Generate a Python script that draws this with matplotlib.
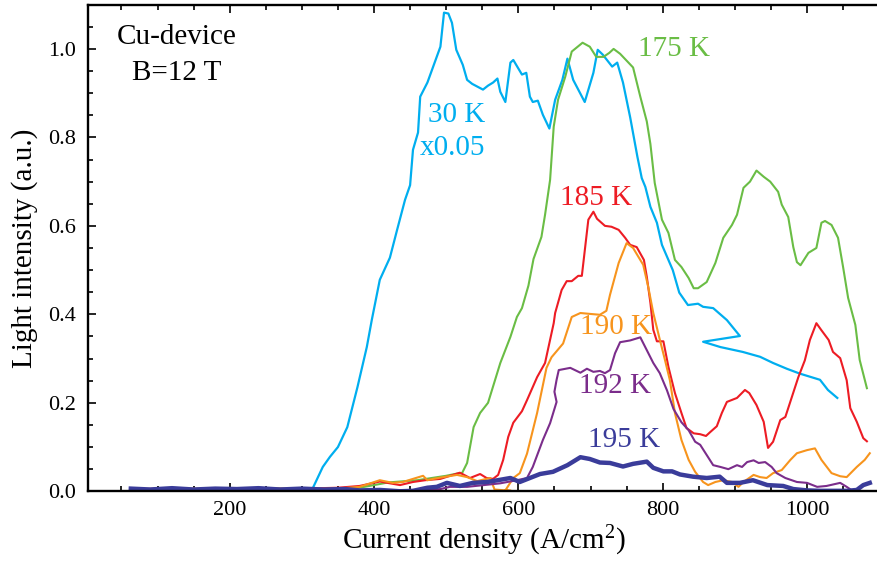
import matplotlib
matplotlib.use('Agg')
import matplotlib.pyplot as plt
from matplotlib.ticker import MultipleLocator, FormatStrFormatter

# ---- data (current density A/cm2, light intensity a.u.) ----
x_30K = [63, 130, 200, 260, 300, 314, 329, 339, 350, 363, 377, 390, 397, 408, 422,
         432, 443, 450, 454, 461, 464, 474, 492, 497, 503, 508, 514, 523, 529, 536,
         551, 558, 565, 571, 575, 582, 589, 593, 605, 611, 616, 620, 627, 634, 643,
         651, 661, 668, 676, 692, 704, 710, 717, 730, 737, 745, 755, 765, 771, 776,
         783, 792, 799, 814, 823, 835, 849, 856, 870, 889, 907, 856, 880, 911, 935,
         953, 972, 990, 1018, 1029, 1042]
y_30K = [0.004, 0.005, 0.004, 0.006, 0.005, 0.003, 0.055, 0.078, 0.100, 0.145, 0.235, 0.326, 0.388, 0.478, 0.528,
         0.591, 0.659, 0.692, 0.772, 0.811, 0.892, 0.924, 1.005, 1.082, 1.080, 1.059, 0.998, 0.964, 0.930, 0.921,
         0.908, 0.917, 0.924, 0.933, 0.903, 0.880, 0.969, 0.975, 0.942, 0.946, 0.892, 0.880, 0.883, 0.851, 0.820,
         0.885, 0.930, 0.978, 0.930, 0.880, 0.946, 0.998, 0.987, 0.960, 0.969, 0.924, 0.845, 0.756, 0.708, 0.688,
         0.643, 0.607, 0.557, 0.500, 0.449, 0.421, 0.424, 0.417, 0.414, 0.387, 0.351, 0.338, 0.326, 0.315, 0.304,
         0.290, 0.277, 0.266, 0.252, 0.229, 0.211]

x_175K = [63, 130, 200, 260, 320, 380, 420, 460, 500, 515, 522, 529, 538, 547, 558, 575, 589, 598, 605, 614,
          621, 632, 637, 644, 649, 655, 665, 674, 689, 699, 708, 718, 726, 732, 741, 759, 769, 778, 783, 789,
          799, 808, 817, 826, 836, 843, 849, 861, 873, 884, 896, 903, 912, 921, 930, 940, 949, 960, 965, 974,
          981, 986, 991, 1002, 1013, 1020, 1025, 1034, 1043, 1050, 1057, 1067, 1073, 1083]
y_175K = [0.005, 0.004, 0.006, 0.005, 0.005, 0.008, 0.020, 0.025, 0.035, 0.040, 0.041, 0.064, 0.145, 0.177, 0.200, 0.290, 0.349, 0.394, 0.414, 0.465,
          0.525, 0.575, 0.625, 0.704, 0.824, 0.885, 0.937, 0.994, 1.014, 1.005, 0.982, 0.982, 0.991, 1.000, 0.989, 0.958, 0.892, 0.836, 0.785, 0.697,
          0.614, 0.584, 0.523, 0.507, 0.482, 0.459, 0.459, 0.473, 0.516, 0.573, 0.602, 0.625, 0.686, 0.700, 0.725, 0.711, 0.700, 0.677, 0.648, 0.620,
          0.552, 0.518, 0.511, 0.539, 0.550, 0.607, 0.611, 0.602, 0.573, 0.507, 0.437, 0.376, 0.297, 0.233]

x_185K = [63, 100, 150, 200, 250, 300, 350, 380, 408, 436, 454, 471, 492, 519, 533, 547, 556, 565, 572, 579,
          586, 593, 605, 612, 626, 637, 649, 651, 660, 667, 674, 683, 688, 697, 704, 709, 720, 729, 739, 748,
          755, 764, 774, 778, 783, 787, 792, 801, 808, 817, 826, 833, 843, 852, 860, 866, 875, 882, 889, 903,
          914, 920, 930, 940, 946, 953, 963, 970, 979, 988, 997, 1004, 1013, 1020, 1030, 1036, 1046, 1055, 1060, 1069,
          1078, 1083]
y_185K = [0.004, 0.006, 0.004, 0.007, 0.005, 0.006, 0.008, 0.012, 0.022, 0.014, 0.021, 0.025, 0.028, 0.042, 0.030, 0.039, 0.030, 0.028, 0.037, 0.071,
          0.123, 0.155, 0.181, 0.206, 0.258, 0.290, 0.380, 0.403, 0.455, 0.475, 0.475, 0.487, 0.487, 0.614, 0.632, 0.616, 0.600, 0.598, 0.591, 0.573,
          0.557, 0.552, 0.523, 0.485, 0.426, 0.365, 0.339, 0.339, 0.281, 0.222, 0.177, 0.143, 0.131, 0.129, 0.125, 0.134, 0.147, 0.177, 0.202, 0.211,
          0.229, 0.222, 0.195, 0.157, 0.098, 0.112, 0.161, 0.168, 0.213, 0.258, 0.296, 0.342, 0.380, 0.364, 0.342, 0.315, 0.301, 0.251, 0.188, 0.157,
          0.120, 0.113]

x_190K = [63, 100, 150, 200, 250, 300, 350, 380, 408, 426, 440, 454, 468, 474, 482, 496, 515, 529, 543, 561,
          567, 590, 582, 593, 602, 612, 626, 639, 646, 662, 674, 686, 699, 713, 722, 727, 739, 750, 759, 773,
          780, 787, 796, 803, 810, 817, 826, 836, 845, 856, 863, 873, 884, 896, 905, 912, 926, 935, 944, 953,
          965, 977, 986, 1000, 1011, 1020, 1034, 1046, 1055, 1069, 1080, 1087]
y_190K = [0.005, 0.004, 0.006, 0.005, 0.007, 0.005, 0.006, 0.010, 0.025, 0.019, 0.021, 0.028, 0.035, 0.025, 0.028, 0.032, 0.037, 0.032, 0.023, 0.030,
          0.004, 0.001, 0.002, 0.030, 0.041, 0.085, 0.177, 0.279, 0.303, 0.334, 0.394, 0.403, 0.401, 0.399, 0.408, 0.444, 0.516, 0.561, 0.550, 0.512,
          0.462, 0.403, 0.343, 0.298, 0.251, 0.177, 0.116, 0.071, 0.044, 0.021, 0.014, 0.021, 0.025, 0.021, 0.010, 0.021, 0.037, 0.032, 0.030, 0.041,
          0.048, 0.071, 0.086, 0.093, 0.097, 0.071, 0.041, 0.034, 0.032, 0.055, 0.071, 0.086]

x_192K = [63, 100, 150, 200, 250, 300, 350, 400, 468, 492, 505, 529, 575, 598, 612, 620, 634, 644, 653, 650,
          653, 656, 672, 686, 695, 704, 713, 720, 727, 734, 741, 755, 769, 778, 787, 796, 806, 815, 826, 836,
          845, 852, 861, 870, 880, 891, 903, 910, 917, 926, 933, 942, 951, 958, 970, 986, 1000, 1014, 1027, 1046,
          1055, 1064, 1083]
y_192K = [0.003, 0.005, 0.003, 0.004, 0.006, 0.004, 0.003, 0.002, 0.003, 0.005, 0.010, 0.010, 0.018, 0.025, 0.030, 0.055, 0.116, 0.154, 0.202, 0.225,
          0.252, 0.274, 0.279, 0.268, 0.277, 0.270, 0.272, 0.267, 0.274, 0.312, 0.337, 0.341, 0.348, 0.319, 0.290, 0.267, 0.228, 0.186, 0.156, 0.138,
          0.112, 0.105, 0.082, 0.059, 0.055, 0.050, 0.059, 0.055, 0.066, 0.070, 0.064, 0.066, 0.055, 0.041, 0.030, 0.021, 0.019, 0.010, 0.012, 0.019,
          0.010, 0.000, 0.000]

x_195K = [63, 90, 120, 150, 180, 210, 240, 270, 300, 330, 360, 380, 408, 436, 454, 474, 487, 501, 519, 537,
          557, 575, 589, 602, 616, 630, 648, 668, 686, 699, 713, 727, 745, 759, 778, 787, 801, 813, 824, 842,
          861, 879, 889, 907, 925, 945, 967, 981, 1000, 1018, 1036, 1056, 1069, 1078, 1087]
y_195K = [0.006, 0.004, 0.007, 0.004, 0.006, 0.005, 0.007, 0.004, 0.006, 0.004, 0.005, 0.002, 0.003, 0.000, 0.001, 0.008, 0.010, 0.019, 0.012, 0.019,
          0.021, 0.026, 0.030, 0.021, 0.030, 0.039, 0.044, 0.059, 0.077, 0.073, 0.065, 0.064, 0.056, 0.062, 0.067, 0.053, 0.045, 0.045, 0.038, 0.033,
          0.030, 0.033, 0.019, 0.019, 0.025, 0.014, 0.012, 0.005, 0.002, 0.001, 0.001, 0.001, 0.003, 0.014, 0.019]

# ---- styling ----
plt.rcParams['font.family'] = 'Liberation Serif'
plt.rcParams['mathtext.fontset'] = 'custom'
plt.rcParams['mathtext.rm'] = 'Liberation Serif'
plt.rcParams['mathtext.default'] = 'regular'

c_30 = '#00AEEF'
c_175 = '#6ABD45'
c_185 = '#ED1C24'
c_190 = '#F7941D'
c_192 = '#7B2D8B'
c_195 = '#3A3C9A'

fig = plt.figure(figsize=(8.77, 5.63), dpi=100)
ax = fig.add_axes([0.0998, 0.1274, 0.9002, 0.8643])

ax.plot(x_30K, y_30K, color=c_30, lw=1.6)
ax.plot(x_175K, y_175K, color=c_175, lw=1.5)
ax.plot(x_185K, y_185K, color=c_185, lw=1.5)
ax.plot(x_190K, y_190K, color=c_190, lw=1.5)
ax.plot(x_192K, y_192K, color=c_192, lw=1.5)
ax.plot(x_195K, y_195K, color=c_195, lw=3.2)

ax.set_xlim(3, 1097)
ax.set_ylim(0, 1.1)

ax.xaxis.set_major_locator(MultipleLocator(200))
ax.xaxis.set_minor_locator(MultipleLocator(50))
ax.yaxis.set_major_locator(MultipleLocator(0.2))
ax.yaxis.set_minor_locator(MultipleLocator(0.05))
ax.yaxis.set_major_formatter(FormatStrFormatter('%.1f'))

ax.spines['right'].set_visible(False)
for s in ['left', 'bottom', 'top']:
    ax.spines[s].set_linewidth(1.7)
ax.tick_params(which='both', direction='in', top=True, right=False, width=1.2, labelsize=16)
ax.tick_params(which='major', length=6)
ax.tick_params(which='minor', length=3.5)
ax.tick_params(axis='y', pad=8)
ax.tick_params(axis='x', pad=7)

# annotations
fs = 21
ax.text(127, 1.028, 'Cu-device', ha='center', va='center', fontsize=fs)
ax.text(127, 0.946, 'B=12 T', ha='center', va='center', fontsize=fs)
ax.text(515, 0.851, '30 K', color=c_30, ha='center', va='center', fontsize=fs)
ax.text(509, 0.777, 'x0.05', color=c_30, ha='center', va='center', fontsize=fs)
ax.text(816, 1.000, '175 K', color=c_175, ha='center', va='center', fontsize=fs)
ax.text(708, 0.664, '185 K', color=c_185, ha='center', va='center', fontsize=fs)
ax.text(736, 0.372, '190 K', color=c_190, ha='center', va='center', fontsize=fs)
ax.text(734, 0.238, '192 K', color=c_192, ha='center', va='center', fontsize=fs)
ax.text(747, 0.116, '195 K', color=c_195, ha='center', va='center', fontsize=fs)

fig.text(484 / 877, 1 - 541 / 563, 'Current density (A/cm$^2$)', ha='center', va='center', fontsize=21)
fig.text(25 / 877, 1 - 248 / 563, 'Light intensity (a.u.)', ha='center', va='center',
         rotation=90, fontsize=21)

fig.savefig('out.png', dpi=100)
